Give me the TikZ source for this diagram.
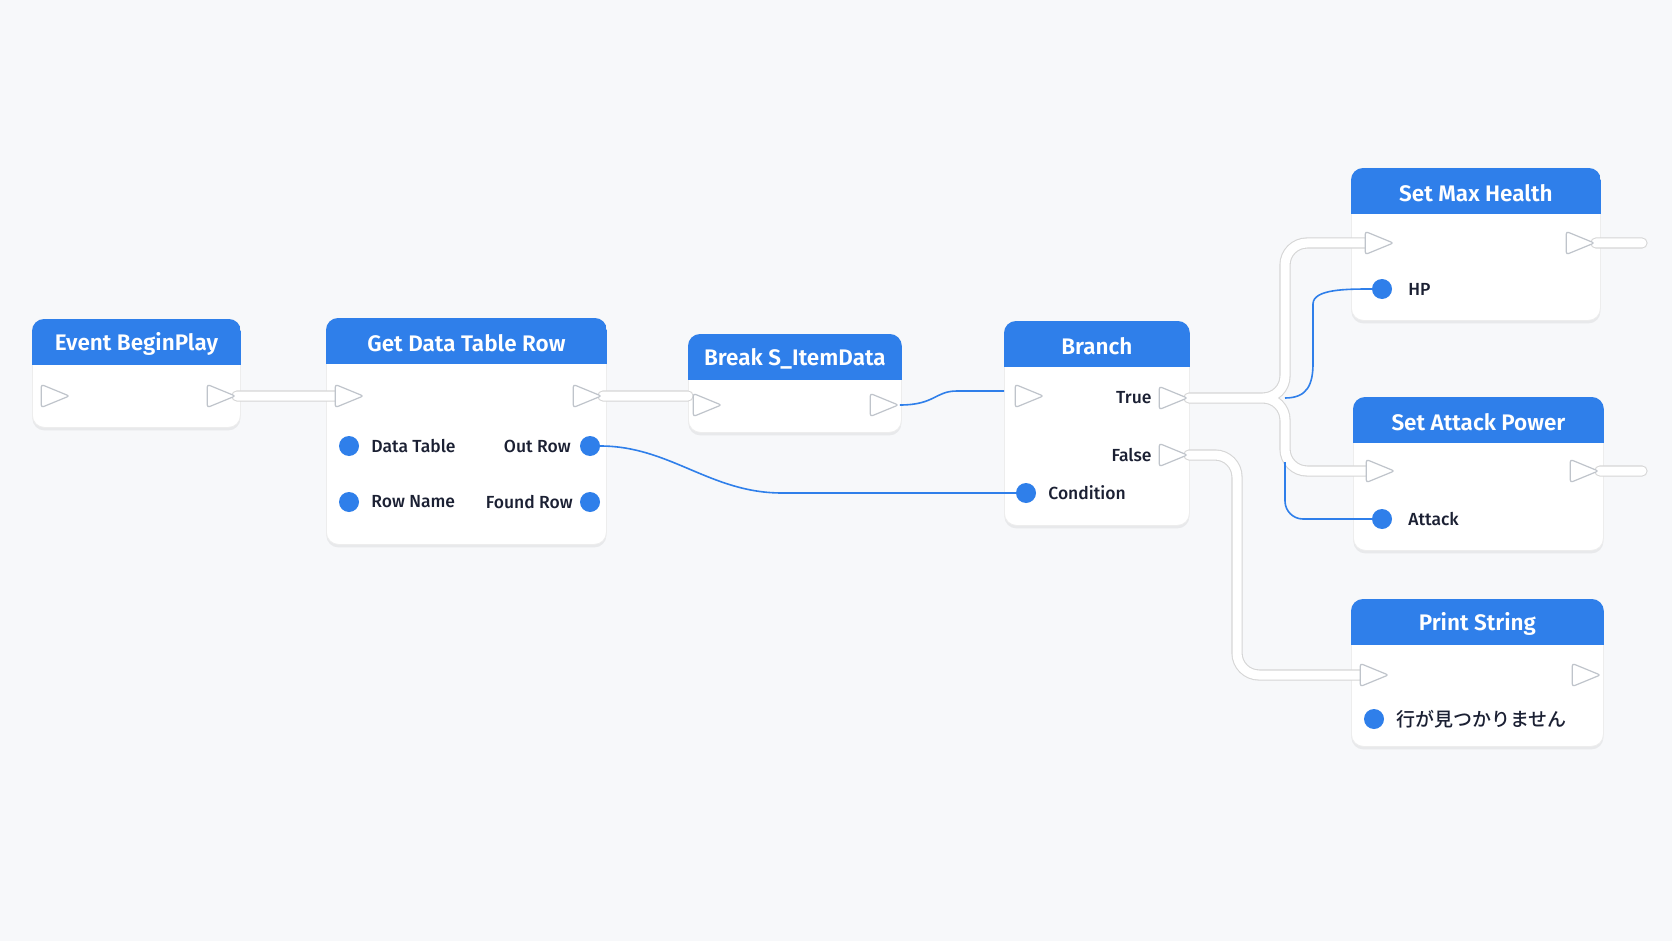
\documentclass[tikz,border=0pt]{standalone}
\usepackage{fontspec}
\setmainfont{Fira Sans}[BoldFont={Fira Sans Medium}]
\newfontface\bpsemi{Fira Sans SemiBold}
\newfontfamily\jpfont{Noto Sans CJK JP}[BoldFont={Noto Sans CJK JP Medium}]
\usetikzlibrary{positioning}
\usetikzlibrary{shapes.geometric}
\usetikzlibrary{shadows}
\usetikzlibrary{backgrounds}
\definecolor{bpblue}{HTML}{2F7FEA}
\definecolor{bpbg}{HTML}{F7F8FA}
\definecolor{bpink}{HTML}{1B2033}
\definecolor{bpedge}{HTML}{BFC4CB}
\pgfdeclarelayer{cards}
\pgfdeclarelayer{wires}
\pgfsetlayers{background,cards,wires,main}
\tikzset{
	bpcard/.style={
		anchor=north west,
		fill=white,
		draw=black!7,
		line width=0.8pt,
		rounded corners=12pt,
		inner sep=0pt,
		drop shadow={opacity=0.12, shadow xshift=0pt, shadow yshift=-3pt}
	},
	bptitle/.style={
		text=white,
		font=\fontsize{22.5}{26}\bpsemi
	},
	execpin/.style={
		isosceles triangle,
		isosceles triangle stretches,
		minimum width=23pt,
		minimum height=28pt,
		inner sep=0pt,
		fill=white,
		draw=bpedge,
		line width=1.2pt,
		rounded corners=2.5pt
	},
	datapin/.style={
		circle,
		fill=bpblue,
		minimum size=20pt,
		inner sep=0pt
	},
	plabel/.style={
		text=bpink,
		inner sep=1pt,
		font=\fontsize{17.5}{20}\selectfont\bfseries
	},
	execwire/.style={
		draw=black!16,
		line width=1.1pt,
		double=white,
		double distance=9pt,
		line cap=round,
		rounded corners=22pt
	},
	datawire/.style={
		draw=bpblue,
		line width=1.6pt,
		rounded corners=18pt
	}
}
% name, x, y, width, height, title
\newcommand \bpnode [6] {
	\begin{pgfonlayer}{cards}
		\node[bpcard, minimum width=#4pt, minimum height=#5pt] (#1) at (#2,#3) {};
		\begin{scope}
			\clip[rounded corners=12pt] (#1.north west) rectangle (#1.south east);
			\fill[bpblue] (#1.north west) rectangle ([yshift=-46pt]#1.north east);
		\end{scope}
	\end{pgfonlayer}
	\node[bptitle] (#1-title) at ([yshift=-25pt]#1.north) {#6};
}

\begin{document}
\begin{tikzpicture}[x=1pt, y=-1pt]
	\begin{pgfonlayer}{background}
		\fill[bpbg] (0,0) rectangle (1672,941);
	\end{pgfonlayer}

	\bpnode{bp}{32}{319}{208}{108}{Event BeginPlay}
	\bpnode{gdt}{326}{318}{280}{226}{Get Data Table Row}
	\bpnode{brk}{688}{334}{213}{98}{Break S\_ItemData}
	\bpnode{bra}{1004}{321}{185}{204}{Branch}
	\bpnode{smh}{1351}{168}{249}{152}{Set Max Health}
	\bpnode{sap}{1353}{397}{250}{153}{Set Attack Power}
	\bpnode{ps}{1351}{599}{252}{147}{Print String}

	% pins
	\node[execpin] (bp-in) at (49,396) {};
	\node[execpin] (bp-out) at (215,396) {};

	\node[execpin] (gdt-in) at (343,396) {};
	\node[execpin] (gdt-out) at (581,396) {};
	\node[datapin] (gdt-dt) at (349,446) {};
	\node[datapin] (gdt-rn) at (349,502) {};
	\node[datapin] (gdt-or) at (590,446) {};
	\node[datapin] (gdt-fr) at (590,502) {};
	\node[plabel, right=11pt of gdt-dt] (gdt-dt-l) {Data Table};
	\node[plabel, right=11pt of gdt-rn] (gdt-rn-l) {Row Name};
	\node[plabel, left=8pt of gdt-or] (gdt-or-l) {Out Row};
	\node[plabel, left=6pt of gdt-fr] (gdt-fr-l) {Found Row};

	\node[execpin] (brk-in) at (701,405) {};
	\node[execpin] (brk-out) at (878,405) {};

	\node[execpin] (bra-in) at (1023,396) {};
	\node[execpin] (bra-true) at (1167,398) {};
	\node[execpin] (bra-false) at (1167,455) {};
	\node[datapin] (bra-cond) at (1026,493) {};
	\node[plabel, left=6pt of bra-true] (bra-true-l) {True};
	\node[plabel, left=6pt of bra-false] (bra-false-l) {False};
	\node[plabel, right=11pt of bra-cond] (bra-cond-l) {Condition};

	\node[execpin] (smh-in) at (1373,243) {};
	\node[execpin] (smh-out) at (1574,243) {};
	\node[datapin] (smh-hp) at (1382,289) {};
	\node[plabel, right=15pt of smh-hp] (smh-hp-l) {HP};

	\node[execpin] (sap-in) at (1374,471) {};
	\node[execpin] (sap-out) at (1578,471) {};
	\node[datapin] (sap-atk) at (1382,519) {};
	\node[plabel, right=15pt of sap-atk] (sap-atk-l) {Attack};

	\node[execpin] (ps-in) at (1368,675) {};
	\node[execpin] (ps-out) at (1580,675) {};
	\node[datapin] (ps-str) at (1374,719) {};
	\node[plabel, right=11pt of ps-str] (ps-str-l) {\jpfont\fontsize{19}{22}\selectfont\bfseries 行が見つかりません};

	\coordinate (split) at (1285,398);
	\coordinate (fturn) at (1237,455);
	\coordinate (smh-end) at (1642,243);
	\coordinate (sap-end) at (1642,471);

	% wires
	\begin{pgfonlayer}{wires}
		\draw[execwire] (bp-out.east) -- (gdt-in.west)
			(gdt-out.east) -- (gdt-out.east -| brk.west)
			(bra-true.east) -- (split) |- (smh-in.west)
			(bra-true.east) -- (split) |- (sap-in.west)
			(bra-false.east) -- (fturn) |- (ps-in.west)
			(smh-out.east) -- (smh-end)
			(sap-out.east) -- (sap-end);
		\draw[datawire] (brk-out.east) .. controls (935,405) and (935,391) .. (975,391) -- (bra.west |- 0,391);
		\draw[datawire] (gdt-or) .. controls (670,446) and (710,493) .. (800,493) -- (bra-cond);
		\draw[datawire] (split) .. controls +(22,0) and +(0,40) .. (1313,345) -- (1313,322) .. controls +(0,-33) and +(-35,0) .. (smh-hp);
		\draw[datawire] (split |- 0,462) |- (sap-atk);
	\end{pgfonlayer}
\end{tikzpicture}
\end{document}
